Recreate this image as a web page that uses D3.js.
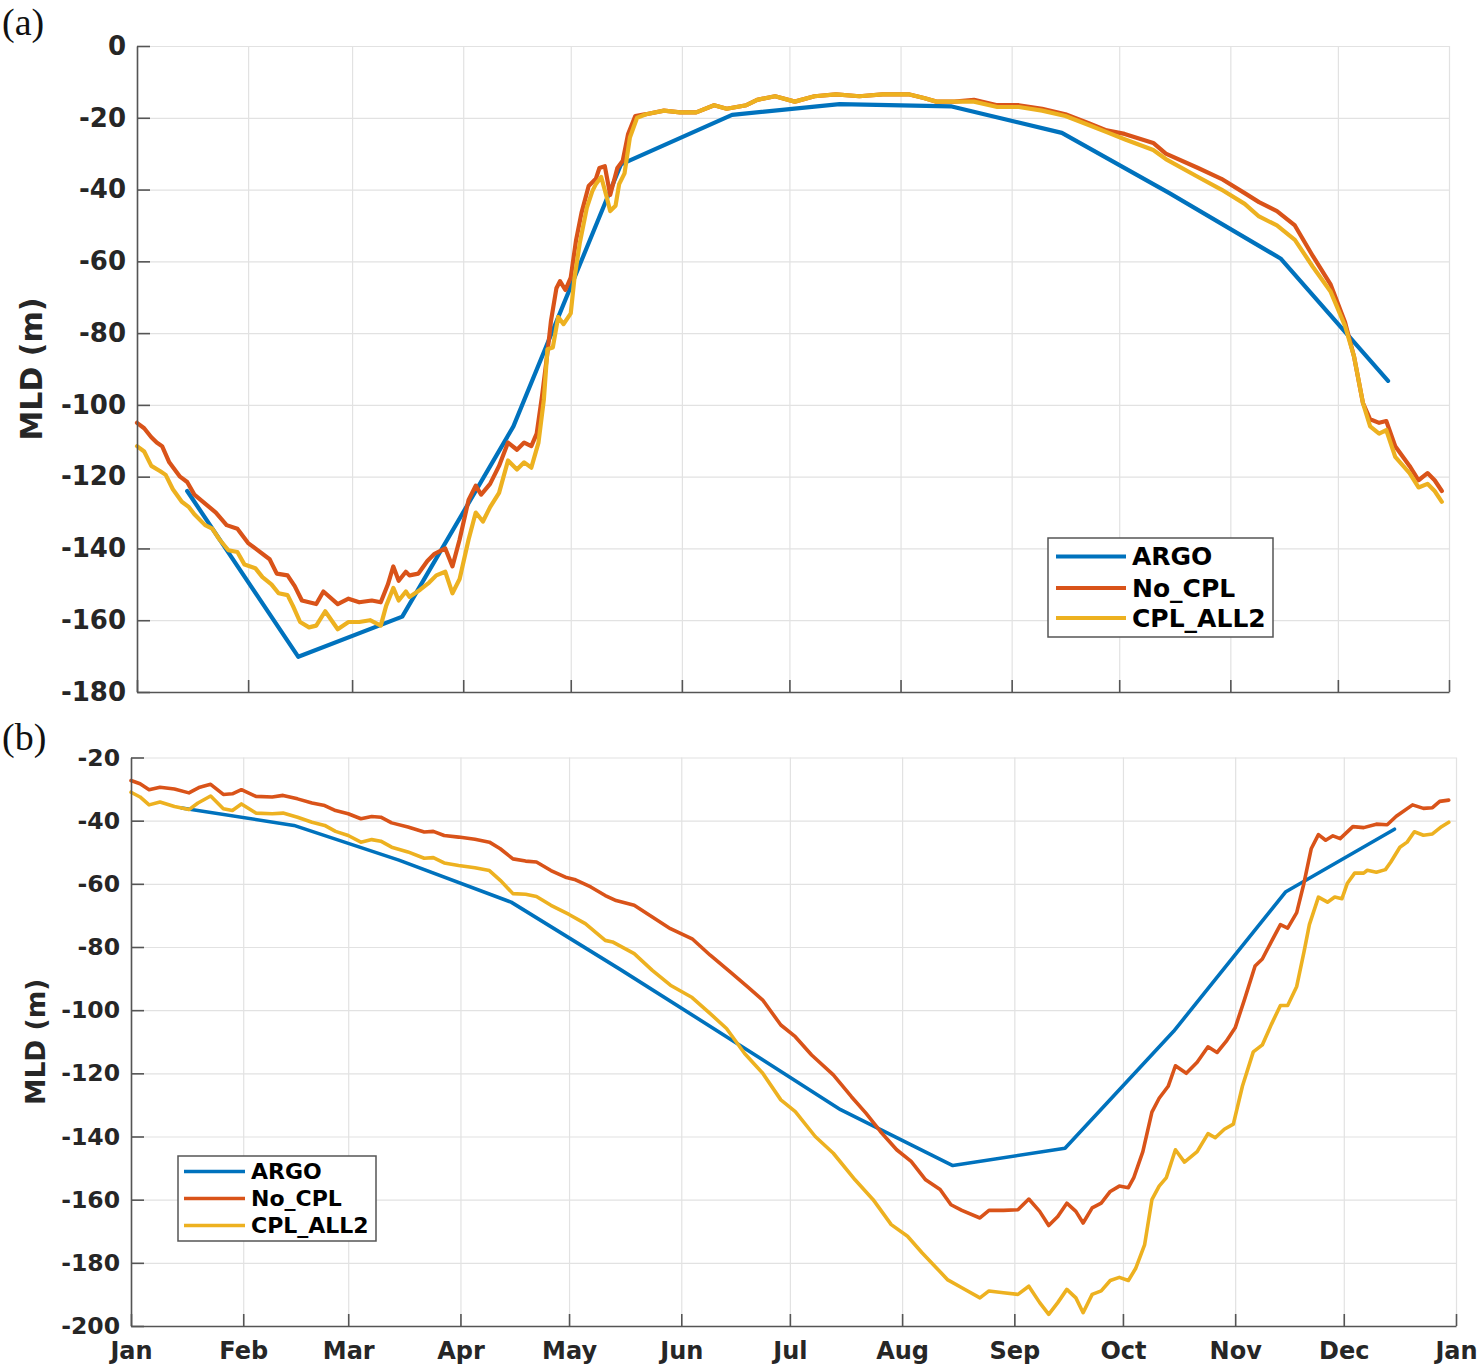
<!DOCTYPE html>
<html>
<head>
<meta charset="utf-8">
<script src="https://cdn.jsdelivr.net/npm/d3@7"></script>
<style>
  body { margin: 0; background: #fff; }
  svg text { font-family: "DejaVu Sans", sans-serif; font-weight: bold; fill: #262626; }
  .grid line { stroke: #e2e2e2; stroke-width: 1.2; }
  .grid path { display: none; }
  .axis path, .axis line { stroke: #555; stroke-width: 1.6; }
  .series { fill: none; stroke-linejoin: round; stroke-linecap: round; }
</style>
</head>
<body>
<svg id="chart" width="1477" height="1366"></svg>
<script>
// series names + colours (matlab default order)
const seriesNames = ["ARGO", "No_CPL", "CPL_ALL2"];
const seriesColors = ["#0072BD", "#D95319", "#EDB120"];

// month tick labels (leap year, jan to jan)
const monthLabels = ["Jan", "Feb", "Mar", "Apr", "May", "Jun", "Jul", "Aug", "Sep", "Oct", "Nov", "Dec", "Jan"];

// y tick values
const yTicksA = [0, -20, -40, -60, -80, -100, -120, -140, -160, -180];
const yTicksB = [-20, -40, -60, -80, -100, -120, -140, -160, -180, -200];

// argo profiles: mid-month days of year and MLD (m)
const argoDays = [14, 45, 74, 105, 135, 166, 196, 227, 258, 288, 319, 349];
const argoA = [-124, -170.2, -159, -106, -33, -19.2, -16.2, -16.8, -24.2, -41, -59.2, -93.3];
const argoB = [-36, -41.5, -52.5, -65.8, -87, -109.5, -131.5, -149.2, -143.7, -106.7, -62.5, -42.7];

// panel (a) model runs: [day of year, MLD]
const noCplA = [[0,-105],[2,-106.5],[4,-109],[5.5,-110.5],[7,-111.5],[9,-116],[12,-120],[14,-121.5],[16,-125],[19,-127.5],[22,-130],[25,-133.5],[28,-134.5],[31,-138.5],[33,-140],[37,-143],[39,-147],[42,-147.5],[44,-150.5],[46,-154.5],[50,-155.5],[52,-152],[56,-155.5],[59,-154],[62,-155],[65.5,-154.5],[68,-155],[70,-150],[71.5,-145],[73,-149],[75,-146.5],[76,-147.5],[78.5,-147],[81,-143.5],[83,-141.5],[86,-140],[88,-145],[90,-137.5],[92.5,-126.5],[94.5,-122.5],[96,-125],[98.5,-122],[101,-117],[103.5,-110.5],[106,-112.5],[108,-110.5],[110,-111.5],[111.5,-108],[113,-97.5],[114.5,-85.5],[115.5,-76.5],[117,-67.5],[118,-65.5],[119.5,-68],[121,-64.5],[122.5,-54],[124,-46.5],[126,-39],[128,-37],[129,-34],[130.5,-33.5],[132,-41.5],[134,-34],[135.5,-32],[137,-24.5],[139,-19.5],[142,-19],[147,-18],[151.5,-18.5],[156,-18.5],[161,-16.5],[164.5,-17.5],[170,-16.5],[173,-15],[178,-14],[183.5,-15.5],[189,-14],[195,-13.5],[201.5,-14],[208,-13.5],[215.5,-13.5],[219.5,-14.5],[223,-15.5],[228,-15.5],[233.5,-15],[240,-16.5],[246,-16.5],[252.5,-17.5],[259,-19],[265.5,-21.5],[270.5,-23.5],[275.5,-24.5],[283.5,-27],[287,-30],[296,-34],[302.5,-37],[309,-41],[313,-43.5],[318,-46],[323,-50],[328,-58.5],[333,-66.5],[337,-77],[339.5,-86.5],[342,-99.5],[344,-104],[346.5,-105],[348.5,-104.5],[351,-111.5],[355,-117],[357.5,-121],[360,-119],[362,-121],[364,-124]];
const cplAll2A = [[0,-111.5],[2,-113],[4,-117],[6.5,-118.5],[8,-119.5],[10,-123.5],[12.5,-127],[14.5,-128.5],[16,-130.5],[19,-133.5],[21,-134.5],[23,-137.5],[25.5,-140.5],[28,-141],[30,-144.5],[33,-145.5],[35,-148],[37.5,-150],[39.5,-152.5],[42,-153],[43.5,-156],[45.5,-160.5],[48,-162],[50,-161.5],[52.5,-157.5],[56,-162.5],[59,-160.5],[62,-160.5],[65,-160],[68,-161.5],[69.5,-156],[71.5,-151],[73,-154.5],[75,-152],[76,-153.5],[79,-151.5],[81.5,-149.5],[83.5,-147.5],[86,-146.5],[88,-152.5],[90,-148.5],[92.5,-137.5],[94.5,-130],[96.5,-132.5],[98.5,-128.5],[101,-124.5],[103.5,-115.5],[106,-118],[108,-116],[110,-117.5],[112,-110.5],[113.5,-98.5],[114.5,-84.5],[116,-84],[117.5,-75.5],[119,-77.5],[121,-74.5],[122,-65],[123.5,-55],[125.5,-45],[127,-40.5],[128,-38.5],[129.5,-36.5],[131,-42],[132,-46],[133.5,-44.5],[134.5,-38.5],[136,-35.5],[137.5,-25.5],[139.5,-20],[142,-19],[147,-18],[151.5,-18.5],[156,-18.5],[161,-16.5],[164.5,-17.5],[170,-16.5],[173,-15],[178,-14],[183.5,-15.5],[189,-14],[195,-13.5],[201.5,-14],[208,-13.5],[215.5,-13.5],[219.5,-14.5],[223,-15.5],[228,-15.5],[233.5,-15.5],[240,-17],[246,-17],[252.5,-18],[259,-19.5],[265.5,-22],[270.5,-24],[275.5,-26],[283.5,-29],[287,-31.5],[296,-36.5],[302.5,-40],[309,-44],[313,-47.5],[318,-50],[323,-54],[328,-61.5],[333,-68.5],[337,-78],[339.5,-86.5],[342,-99.5],[344,-106],[346.5,-108],[348.5,-107],[351,-114.5],[355,-119],[357.5,-123],[360,-122],[362,-124],[364,-127]];

// panel (b) model runs
const noCplB = [[0,-27.3],[2.5,-28.3],[5,-30.2],[8,-29.4],[12,-30],[16,-31.2],[19,-29.4],[22,-28.5],[25.5,-31.7],[28,-31.5],[30.5,-30.2],[34.5,-32.3],[39,-32.5],[42,-32],[46,-33.1],[50,-34.4],[53.5,-35.2],[56.5,-36.8],[60,-37.8],[63.5,-39.4],[66.5,-38.7],[69,-38.9],[72,-40.7],[76.5,-42],[81,-43.6],[83.5,-43.4],[86.5,-44.7],[90.5,-45.2],[95,-45.9],[99,-46.8],[102,-48.9],[105.5,-52.1],[109,-52.8],[112,-53.1],[116,-55.8],[120,-57.9],[122.5,-58.6],[127,-61],[131,-63.7],[134,-65.3],[139,-66.8],[144,-70.5],[149,-74.2],[155,-77.4],[160,-82.6],[165.5,-87.9],[170.5,-92.8],[174.5,-96.8],[179.5,-104.7],[183.5,-108.4],[188,-114.2],[194,-120.5],[199,-127.4],[203,-132.6],[207,-138.4],[211.5,-144.2],[215.5,-147.9],[219.5,-153.7],[223.5,-156.8],[226.5,-161.6],[229.5,-163.4],[234.5,-165.8],[237,-163.4],[241,-163.4],[245,-163.2],[248,-159.8],[251,-163.7],[253.5,-168.2],[256,-165.3],[258.5,-161.1],[261,-163.7],[263,-167.4],[265.5,-162.6],[268,-161.1],[270.5,-157.4],[273,-155.7],[275.5,-156.2],[277,-153],[279.5,-144.8],[282,-132.3],[284,-127.9],[286.5,-124.1],[288.5,-117.6],[291.5,-120],[294.5,-116.5],[297.5,-111.6],[300,-113.4],[302.5,-109.9],[305,-105.6],[307.5,-96.9],[310.5,-86],[312.5,-83.8],[315,-78.3],[317.5,-72.9],[319.5,-74],[322,-69.1],[324,-59.8],[326,-48.9],[328,-44.4],[330,-46.2],[332,-44.8],[334,-45.7],[337.5,-41.9],[340.5,-42.2],[344,-41.1],[347,-41.3],[349.5,-38.6],[354,-35],[357,-36.1],[359.5,-35.9],[361.5,-33.9],[364,-33.5]];
const cplAll2B = [[0,-31],[2.5,-32.5],[5,-35],[8,-34.1],[12,-35.5],[16,-36.5],[18.5,-34.4],[22,-32.2],[25.5,-36.2],[28,-36.8],[30.5,-34.7],[34.5,-37.6],[39,-37.8],[42,-37.6],[46,-38.9],[50,-40.5],[53.5,-41.5],[56.5,-43.4],[60,-44.7],[63.5,-46.8],[66.5,-46],[69,-46.5],[72,-48.4],[76.5,-49.9],[81,-51.9],[83.5,-51.7],[86.5,-53.4],[90.5,-54.2],[95,-54.9],[99,-55.8],[102,-58.9],[105.5,-63.1],[109,-63.3],[112,-64],[116,-66.8],[121,-69.7],[125.5,-72.6],[131,-77.9],[133,-78.4],[139,-82.1],[144,-87.4],[149,-92.1],[155,-96],[160,-101.1],[164.5,-105.8],[169.5,-113.7],[174.5,-120],[179.5,-128.4],[183.5,-132.1],[189,-140],[194,-145.3],[200,-153.7],[205,-160],[210,-167.9],[214.5,-171.6],[218.5,-176.8],[222.5,-181.6],[225.5,-185.3],[229.5,-187.9],[234.5,-191.1],[237,-188.9],[241,-189.5],[245,-190],[248,-187.4],[251,-192.6],[253.5,-196.3],[256,-192.6],[258.5,-188.4],[261,-191.1],[263,-195.8],[265.5,-190],[268,-188.9],[270.5,-185.6],[273,-184.6],[275.5,-185.6],[277.5,-181.8],[280,-174.2],[282,-160],[284,-155.7],[286,-153],[288.5,-144.2],[291,-148.1],[294.5,-144.8],[297.5,-139.1],[299.5,-140.4],[302,-137.7],[304.5,-136.1],[307,-124.1],[310,-113.2],[312.5,-111],[315,-104.5],[317.5,-98.5],[319.5,-98.5],[322,-92.5],[324,-81.6],[325.5,-72.9],[328,-64.2],[330.5,-65.8],[332.5,-64.2],[334.5,-64.7],[336,-59.8],[338,-56.6],[340.5,-56.6],[341.5,-55.7],[344,-56.3],[346.5,-55.5],[348,-53.1],[350.5,-48.4],[352.5,-46.8],[354.5,-43.5],[357,-44.6],[359.5,-44.2],[362,-41.9],[364,-40.5]];

const svg = d3.select("#chart");
const yearStart = Date.UTC(2016, 0, 1);
const dayToDate = d => new Date(yearStart + d * 864e5);

// panel layout (pixels)
const panels = [
  {tag: "(a)", tagX: 2, tagY: 35, left: 137, right: 1449, top: 46, bottom: 692,
   yDomain: [-180, 0], yTicks: yTicksA, tickFont: 26, titleFont: 30, titleX: 42,
   showMonths: false, lineWidth: 4.2,
   argo: argoA, noCpl: noCplA, cpl: cplAll2A,
   legend: {x: 1048, y: 538, w: 225, h: 99, lineX0: 1056, lineX1: 1126, textX: 1132,
            rows: [556.5, 588, 618], font: 25, dy: 8.8}},
  {tag: "(b)", tagX: 2, tagY: 750, left: 131, right: 1456, top: 757.5, bottom: 1326,
   yDomain: [-200, -20], yTicks: yTicksB, tickFont: 23.5, titleFont: 26.5, titleX: 45,
   showMonths: true, lineWidth: 3.6,
   argo: argoB, noCpl: noCplB, cpl: cplAll2B,
   legend: {x: 178, y: 1156, w: 198, h: 85, lineX0: 184, lineX1: 245, textX: 251,
            rows: [1171.5, 1198.5, 1225.5], font: 22, dy: 7.8}}
];

panels.forEach(function(p) {
  var x = d3.scaleUtc()
      .domain([dayToDate(0), dayToDate(366)])
      .range([p.left, p.right]);
  var y = d3.scaleLinear()
      .domain(p.yDomain)
      .range([p.bottom, p.top]);

  var monthTicks = d3.utcMonth.range(dayToDate(0), dayToDate(367));

  // grid
  svg.append("g")
      .attr("class", "grid")
      .attr("transform", `translate(0,${p.bottom})`)
      .call(d3.axisBottom(x).tickValues(monthTicks).tickSize(-(p.bottom - p.top)).tickFormat(""));
  svg.append("g")
      .attr("class", "grid")
      .attr("transform", `translate(${p.left},0)`)
      .call(d3.axisLeft(y).tickValues(p.yTicks).tickSize(-(p.right - p.left)).tickFormat(""));

  // lines
  var line = d3.line()
      .x(d => x(dayToDate(d[0])))
      .y(d => y(d[1]));
  var argoPts = argoDays.map((d, i) => [d, p.argo[i]]);
  [argoPts, p.noCpl, p.cpl].forEach(function(data, i) {
    svg.append("path")
        .datum(data)
        .attr("class", "series")
        .attr("stroke", seriesColors[i])
        .attr("stroke-width", p.lineWidth)
        .attr("d", line);
  });

  // axes, ticks pointing inward
  var xAxis = svg.append("g")
      .attr("class", "axis")
      .attr("transform", `translate(0,${p.bottom})`)
      .call(d3.axisBottom(x).tickValues(monthTicks).tickSize(-12).tickSizeOuter(0).tickPadding(16)
          .tickFormat((d, i) => p.showMonths ? monthLabels[i] : ""));
  xAxis.selectAll("text").style("font-size", "24px").attr("dy", "0.72em");

  // plain hyphen for negatives, like the original
  var yAxis = svg.append("g")
      .attr("class", "axis")
      .attr("transform", `translate(${p.left},0)`)
      .call(d3.axisLeft(y).tickValues(p.yTicks).tickSize(-13).tickSizeOuter(0).tickPadding(11)
          .tickFormat(d => String(d)));
  yAxis.selectAll("text").style("font-size", p.tickFont + "px");

  // y title
  svg.append("text")
      .attr("transform", `translate(${p.titleX},${(p.top + p.bottom) / 2}) rotate(-90)`)
      .attr("text-anchor", "middle")
      .style("font-size", p.titleFont + "px")
      .text("MLD (m)");

  // panel tag
  svg.append("text")
      .attr("x", p.tagX)
      .attr("y", p.tagY)
      .style("font-family", "'Liberation Serif', 'DejaVu Serif', serif")
      .style("font-weight", "normal")
      .style("font-size", "38px")
      .style("fill", "#111")
      .text(p.tag);

  // legend
  var lg = p.legend;
  svg.append("rect")
      .attr("x", lg.x).attr("y", lg.y)
      .attr("width", lg.w).attr("height", lg.h)
      .attr("fill", "#fff")
      .attr("stroke", "#555")
      .attr("stroke-width", 1.5);
  seriesNames.forEach(function(name, i) {
    svg.append("line")
        .attr("x1", lg.lineX0).attr("x2", lg.lineX1)
        .attr("y1", lg.rows[i]).attr("y2", lg.rows[i])
        .attr("stroke", seriesColors[i])
        .attr("stroke-width", p.lineWidth);
    svg.append("text")
        .attr("x", lg.textX)
        .attr("y", lg.rows[i] + lg.dy)
        .style("font-size", lg.font + "px")
        .style("fill", "#000")
        .text(name);
  });
});
</script>
</body>
</html>
